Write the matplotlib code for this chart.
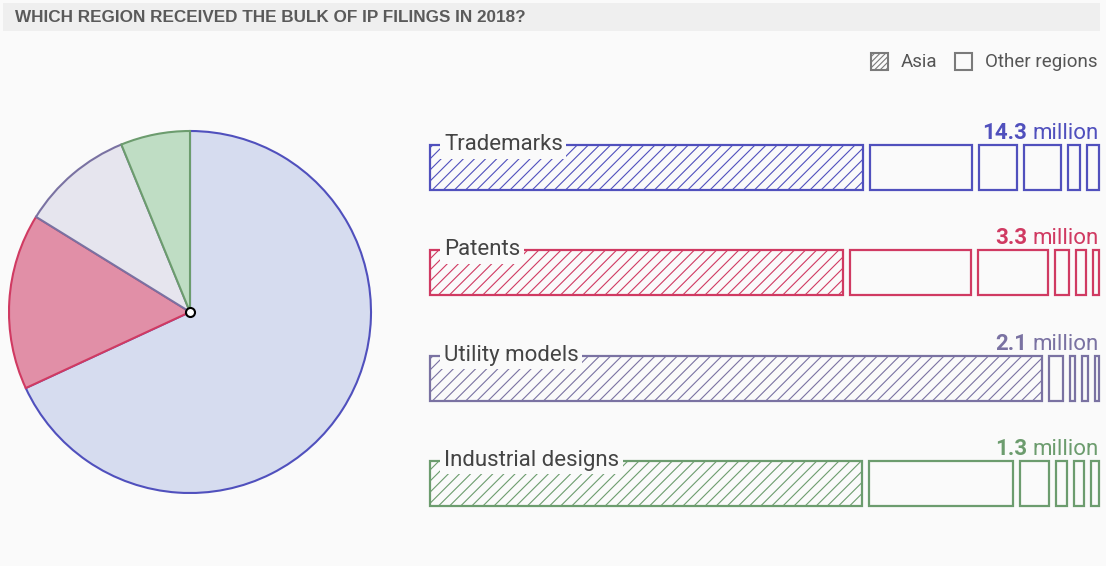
import matplotlib
matplotlib.use("Agg")
import matplotlib.pyplot as plt
from matplotlib.patches import Rectangle

# ---------------- data ----------------
title = "WHICH REGION RECEIVED THE BULK OF IP FILINGS IN 2018?"
categories = ["Trademarks", "Patents", "Utility models", "Industrial designs"]
totals_million = [14.3, 3.3, 2.1, 1.3]
# regional shares (%) per category, first = Asia, rest = other regions (descending)
trademarks_shares = [68.3, 16.1, 6.0, 5.8, 1.9, 1.9]
patents_shares = [65.2, 19.1, 11.0, 2.2, 1.7, 0.9]
utility_shares = [95.4, 2.3, 0.8, 0.8, 0.7]
designs_shares = [68.1, 22.7, 4.5, 1.8, 1.6, 1.2]
region_shares = [trademarks_shares, patents_shares, utility_shares, designs_shares]
legend_labels = ["Asia", "Other regions"]

# ---------------- style ----------------
edge_colors = ["#5050bd", "#d03a62", "#7a72a2", "#6c9c6e"]
fill_colors = ["#d6dcef", "#e18fa7", "#e6e5ee", "#bfddc4"]
bg = "#fafafa"
W, H = 1106, 566

plt.rcParams["hatch.linewidth"] = 0.8
fig = plt.figure(figsize=(W / 100, H / 100), dpi=100, facecolor=bg)

# overlay axes in pixel coordinates
ax = fig.add_axes([0, 0, 1, 1])
ax.set_xlim(0, W)
ax.set_ylim(H, 0)
ax.axis("off")

# title band
ax.add_patch(Rectangle((3, 3), 1097, 28, facecolor="#efefef", edgecolor="none", zorder=0))
ax.text(15, 17.5, title, fontsize=12.3, fontweight="bold", color="#5a5a5a",
        family="Liberation Sans", va="center", ha="left")

# legend
lx = [871, 955]
for i, (x, lab) in enumerate(zip(lx, legend_labels)):
    ax.add_patch(Rectangle((x, 53), 17, 17, facecolor=bg, edgecolor="#7a7a7a",
                           linewidth=1.5, hatch="//////" if i == 0 else None, zorder=3))
    ax.text(x + 30, 62, lab, fontsize=13.5, color="#555555", family="Roboto",
            va="center", ha="left")

# bars
x_left, x_right, gap = 430, 1099, 7
bar_h = 45
row_top0, row_step = 145, 105.3
for i, (cat, shares, tot) in enumerate(zip(categories, region_shares, totals_million)):
    top = row_top0 + i * row_step
    yc = top + bar_h / 2
    n = len(shares)
    avail = (x_right - x_left) - gap * (n - 1)
    s = sum(shares)
    left = x_left
    for j, v in enumerate(shares):
        w = v / s * avail
        ax.barh(yc, w, left=left, height=bar_h, facecolor=bg,
                edgecolor=edge_colors[i], linewidth=1.6,
                hatch="///" if j == 0 else None, zorder=2)
        left += w + gap
    # category label breaking the top edge
    ax.text(444, top + 5, cat, fontsize=16, color="#444444", family="Roboto",
            va="baseline", ha="left", zorder=5,
            bbox=dict(facecolor=bg, edgecolor="none", pad=2.5))
    # value label
    t1 = ax.text(x_right, top - 6, "million", fontsize=16, color=edge_colors[i],
                 family="Roboto", va="baseline", ha="right", zorder=5)
    ax.annotate(f"{tot}", xy=(0, 0), xycoords=t1, xytext=(-4, 0),
                textcoords="offset points", ha="right", va="bottom",
                fontsize=16, fontweight="bold", color=edge_colors[i],
                family="Roboto", zorder=5)

# pie
cx, cy, r = 190, 312, 181
axp = fig.add_axes([(cx - r) / W, (H - cy - r) / H, 2 * r / W, 2 * r / H])
wedges, _ = axp.pie(totals_million, startangle=90, counterclock=False,
                    colors=fill_colors, wedgeprops=dict(linewidth=1.5))
for wdg, ec in zip(wedges, edge_colors):
    wdg.set_edgecolor(ec)
    wdg.set_clip_on(False)
axp.plot([0], [0], "o", ms=6.5, mfc="white", mec="black", mew=1.5, zorder=10, clip_on=False)
axp.set_xlim(-1, 1)
axp.set_ylim(-1, 1)
axp.set_aspect("auto")
axp.axis("off")

fig.savefig("out.png", dpi=100, facecolor=bg)
